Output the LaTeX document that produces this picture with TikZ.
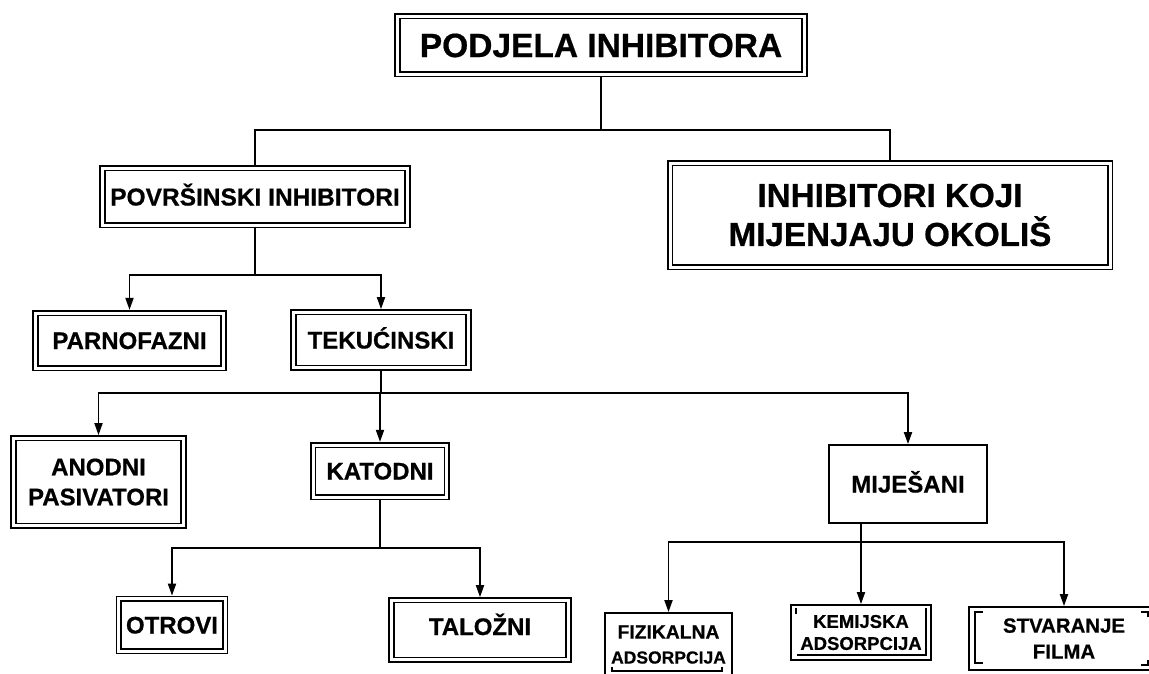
\documentclass[tikz,border=0pt]{standalone}
\usepackage{fontspec}
\setmainfont{Liberation Sans}[BoldFeatures={FakeBold=0.6}]
\usetikzlibrary{arrows.meta}
\newcommand\fsz[2]{\fontsize{#1}{#2}\selectfont}
\begin{document}
\begin{tikzpicture}[x=1pt,y=-1pt,
  dbl/.style={draw, double, double distance=3pt, line width=1.6pt, inner sep=0pt, outer sep=3.1pt, align=center},
  sgl/.style={draw, line width=1.8pt, inner sep=0pt, outer sep=0.9pt, align=center},
  ln/.style={line width=1.8pt},
  arr/.style={line width=1.8pt, -{Triangle[length=12pt,width=8pt]}},
  inn/.style={line width=1.4pt}
]
\useasboundingbox[fill=white] (0,0) rectangle (1149,673);

% level 0
\node[dbl, minimum width=407pt, minimum height=58pt, text height=24pt, text depth=0pt,
      font=\bfseries\fsz{33.5}{40}] (title) at (601,45) {PODJELA INHIBITORA};

% level 1
\node[dbl, minimum width=305pt, minimum height=57pt, text height=18pt, text depth=0pt,
      font=\bfseries\fsz{24.5}{30}] (povr) at (255,196.5) {POVRŠINSKI INHIBITORI};
\node[dbl, minimum width=440pt, minimum height=104pt,
      font=\bfseries\fsz{33.2}{39}] (okol) at (890,215) {INHIBITORI KOJI\\MIJENJAJU OKOLIŠ};

% level 2
\node[dbl, minimum width=188pt, minimum height=55pt, text height=17pt, text depth=0pt,
      font=\bfseries\fsz{24}{30}] (parno) at (129.5,340.5) {PARNOFAZNI};
\node[dbl, minimum width=175pt, minimum height=55.5pt, text height=17pt, text depth=0pt,
      font=\bfseries\fsz{24}{30}] (tek) at (381,340) {TEKUĆINSKI};

% level 3
\node[dbl, minimum width=170pt, minimum height=87.5pt,
      font=\bfseries\fsz{24}{30}] (anod) at (98.5,482) {ANODNI\\PASIVATORI};
\node[dbl, minimum width=133.5pt, minimum height=52pt, text height=17pt, text depth=0pt,
      font=\bfseries\fsz{24}{30}] (kat) at (380,471) {KATODNI};
\node[sgl, minimum width=158pt, minimum height=78pt, text height=17pt, text depth=0pt,
      font=\bfseries\fsz{24}{30}] (mij) at (908,484) {MIJEŠANI};

% level 4
\node[dbl, minimum width=106.5pt, minimum height=52.5pt, text height=17pt, text depth=0pt,
      font=\bfseries\fsz{24}{30}] (otr) at (172,625) {OTROVI};
\node[dbl, minimum width=177pt, minimum height=59.5pt, text height=17pt, text depth=7pt,
      font=\bfseries\fsz{24}{30}] (tal) at (480,630) {TALOŽNI};

\node[sgl, minimum width=127pt, minimum height=63pt,
      font=\bfseries\fsz{17.5}{25}] (fiz) at (668.5,644.5) {{\fsz{19.3}{25}FIZIKALNA}\\ADSORPCIJA};
\node[sgl, minimum width=140pt, minimum height=55pt,
      font=\bfseries\fsz{18.5}{22}] (kem) at (861,632.5) {KEMIJSKA\\ADSORPCIJA};
\node[sgl, minimum width=190pt, minimum height=63pt,
      font=\bfseries\fsz{20.4}{26}] (stv) at (1064,638.5) {STVARANJE\\FILMA};

% partial inner borders of the bottom boxes
\draw[inn] ([shift={(8,-10)}]fiz.south west) -- ++(0,4) -- ++(110,0) -- ++(0,-4);
\draw[inn] ([shift={(6,4)}]kem.north west) -- ++(0,6);
\draw[inn] ([shift={(7,-6)}]kem.south west) -- ([shift={(-6,-6)}]kem.south east) -- ([shift={(-6,4)}]kem.north east);
\draw[inn] ([shift={(15,6)}]stv.north west) -- ++(-8,0) -- ++(0,51) -- ++(8,0);
\draw[inn] ([shift={(-19,6)}]stv.north east) -- ++(7,0) -- ++(0,5);
\draw[inn] ([shift={(-19,-6)}]stv.south east) -- ++(7,0) -- ++(0,-5);

% connectors
\draw[ln] (title.south) -- ++(0,53) coordinate (j1);
\draw[ln] (j1) -| (povr.north);
\draw[ln] (j1) -| (okol.north);

\draw[ln] (povr.south) -- ++(0,47) coordinate (j2);
\draw[arr] (j2) -| (parno.north);
\draw[arr] (j2) -| (tek.north);

\draw[ln] (tek.south) -- ++(0,22) coordinate (j3);
\draw[arr] (j3) -| (anod.north);
\draw[arr] (j3) -| (kat.north);
\draw[arr] (j3) -| (mij.north);

\draw[ln] (kat.south) -- ++(0,48) coordinate (j4);
\draw[arr] (j4) -| (otr.north);
\draw[arr] (j4) -| (tal.north);

\coordinate (m0) at ([xshift=-47pt]mij.south);
\draw[arr] (m0) -- (kem.north);
\path (m0) -- ++(0,18) coordinate (j5);
\draw[arr] (j5) -| (fiz.north);
\draw[arr] (j5) -| (stv.north);
\end{tikzpicture}
\end{document}
